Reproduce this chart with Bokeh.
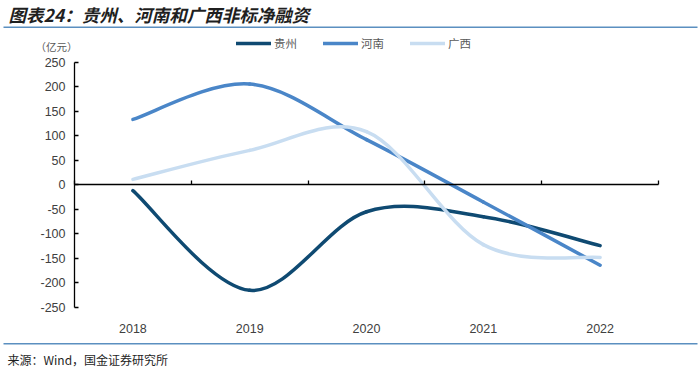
from bokeh.plotting import figure
from bokeh.models import (Range1d, FixedTicker, LinearAxis, Label, Legend,
                          LegendItem, BoxAnnotation)
from bokeh.embed import file_html
from bokeh.resources import INLINE

years = ["2018", "2019", "2020", "2021", "2022"]
guizhou = [-12, -215, -55, -65, -124]
henan = [133, 205, 92, -35, -164]
guangxi = [11, 70, 108, -122, -148]
series_names = ["贵州", "河南", "广西"]
series_colors = ["#0f4a72", "#4a86c8", "#c8ddf1"]
y_ticks = [-250, -200, -150, -100, -50, 0, 50, 100, 150, 200, 250]
y_min, y_max = -250, 250

CJK = "Noto Sans CJK SC"
LAT = "Liberation Sans"

W, H = 700, 368
# plot area in canvas pixels
PL, PR, PT, PB = 74, 658, 61.5, 307
n = len(years)
sx = (PR - PL) / n
sy = (PB - PT) / (y_max - y_min)
x_range = Range1d(-PL / sx, n + (W - PR) / sx)
y_range = Range1d(y_min - (H - PB) / sy, y_max + PT / sy)

p = figure(width=W, height=H, output_backend="svg", toolbar_location=None,
           x_range=x_range, y_range=y_range,
           min_border=0, min_border_left=0, min_border_right=0,
           min_border_top=0, min_border_bottom=0,
           x_axis_type=None, y_axis_type=None)
p.grid.visible = False
p.outline_line_color = None
p.background_fill_color = "white"
p.border_fill_color = "white"

# y axis crossing at x=0
yax = LinearAxis(ticker=FixedTicker(ticks=y_ticks), fixed_location=0,
                 bounds=(y_min, y_max))
yax.major_label_overrides = {t: str(t) for t in y_ticks}
yax.axis_line_color = "#000000"
yax.axis_line_width = 1.3
yax.major_tick_in = 4
yax.major_tick_out = 0
yax.major_tick_line_color = "#000000"
yax.major_tick_line_width = 1.3
yax.minor_tick_line_color = None
yax.major_label_standoff = 9
yax.major_label_text_font = LAT
yax.major_label_text_font_size = "12.5px"
yax.major_label_text_color = "#404040"
p.add_layout(yax, "left")

# zero line with boundary ticks
bounds = list(range(0, n + 1))
zax = LinearAxis(ticker=FixedTicker(ticks=bounds), fixed_location=0, bounds=(0, n))
zax.major_label_overrides = {b: "" for b in bounds}
zax.axis_line_color = "#000000"
zax.axis_line_width = 1.3
zax.major_tick_in = 4
zax.major_tick_out = 0
zax.major_tick_line_color = "#000000"
zax.major_tick_line_width = 1.3
zax.minor_tick_line_color = None
p.add_layout(zax, "below")

# category labels at the bottom
centers = [i + 0.5 for i in range(n)]
xax = LinearAxis(ticker=FixedTicker(ticks=centers), fixed_location=y_min,
                 bounds=(0, n))
xax.major_label_overrides = {c: y for c, y in zip(centers, years)}
xax.axis_line_color = None
xax.major_tick_line_color = None
xax.minor_tick_line_color = None
xax.major_label_standoff = 10
xax.major_label_text_font = LAT
xax.major_label_text_font_size = "12.5px"
xax.major_label_text_color = "#404040"
p.add_layout(xax, "below")


def smooth(vals):
    m = len(vals)
    out = {k: [] for k in ("x0", "y0", "x1", "y1", "cx0", "cy0", "cx1", "cy1")}
    for i in range(m - 1):
        pm = vals[i - 1] if i > 0 else vals[i]
        p0 = vals[i]
        p1 = vals[i + 1]
        p2 = vals[i + 2] if i + 2 < m else vals[i + 1]
        xm = centers[i - 1] if i > 0 else centers[i]
        xp = centers[i + 2] if i + 2 < m else centers[i + 1]
        out["x0"].append(centers[i]); out["y0"].append(p0)
        out["x1"].append(centers[i + 1]); out["y1"].append(p1)
        out["cx0"].append(centers[i] + (centers[i + 1] - xm) / 6)
        out["cy0"].append(p0 + (p1 - pm) / 6)
        out["cx1"].append(centers[i + 1] - (xp - centers[i]) / 6)
        out["cy1"].append(p1 - (p2 - p0) / 6)
    return out


items = []
for name, vals, col in zip(series_names, [guizhou, henan, guangxi], series_colors):
    r = p.bezier(source=smooth(vals), x0="x0", y0="y0", x1="x1", y1="y1",
                 cx0="cx0", cy0="cy0", cx1="cx1", cy1="cy1",
                 line_color=col, line_width=3.5, line_cap="round")
    items.append(LegendItem(label=name, renderers=[r]))

legend = Legend(items=items, orientation="horizontal", location=(236, H - 51),
                glyph_width=35, glyph_height=12, label_height=12,
                label_standoff=3, spacing=26, padding=0, margin=0,
                border_line_color=None, background_fill_alpha=0,
                label_text_font=CJK, label_text_font_size="11.5px",
                label_text_color="#595959")
p.add_layout(legend, "center")

# unit label
p.add_layout(Label(x=35, y=H - 46, x_units="screen", y_units="screen", text="（亿元）",
                   text_font=CJK, text_font_size="10.5px", text_color="#595959",
                   text_baseline="middle"))

# title
p.add_layout(Label(x=8, y=H - 14, x_units="screen", y_units="screen",
                   text="图表24：贵州、河南和广西非标净融资",
                   text_font=CJK, text_font_size="17.5px", text_font_style="bold italic",
                   text_color="#1f1f1f", text_baseline="middle"))

# separator lines
p.add_layout(BoxAnnotation(left=3, right=W - 3, bottom=H - 27.5, top=H - 26,
                           left_units="screen", right_units="screen",
                           bottom_units="screen", top_units="screen",
                           fill_color="#5b8fc0", fill_alpha=1, line_color=None))
p.add_layout(BoxAnnotation(left=3, right=W - 3, bottom=H - 344, top=H - 342.5,
                           left_units="screen", right_units="screen",
                           bottom_units="screen", top_units="screen",
                           fill_color="#5b8fc0", fill_alpha=1, line_color=None))

# footer
p.add_layout(Label(x=7, y=H - 359, x_units="screen", y_units="screen",
                   text="来源：Wind，国金证券研究所",
                   text_font=CJK, text_font_size="12px", text_color="#1f1f1f",
                   text_baseline="middle"))

open("out.html", "w").write(file_html(p, INLINE))
